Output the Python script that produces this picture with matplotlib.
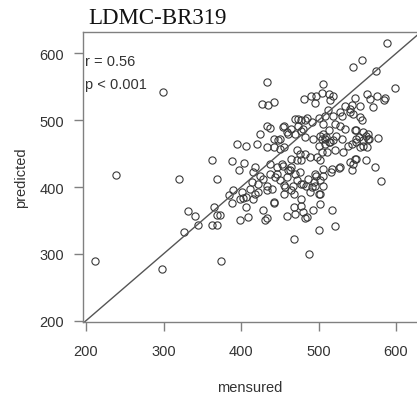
import matplotlib
matplotlib.use("Agg")
from matplotlib import pyplot as plt

title = "LDMC-BR319"
x_label = "mensured"
y_label = "predicted"
r_text = "r = 0.56"
p_text = "p < 0.001"
ticks = [200, 300, 400, 500, 600]

# values
mensured = [
    212, 239, 298, 299, 320, 326, 331, 340, 344, 363, 369, 363, 388, 369,
    385, 388, 365, 369, 373, 374,
    588, 556, 545, 574, 599, 586, 562, 567, 570, 575, 433, 427, 435, 442,
    481, 490, 497, 496, 506, 505, 513, 519, 547, 543, 534, 554, 528, 541,
    519, 515, 512, 530, 545, 554, 541, 584, 508, 556,
    474, 482, 491, 500, 506, 433, 437, 455, 465, 459, 470, 478, 483, 493,
    502, 500, 424, 442, 448, 421, 433, 442, 395, 406, 450, 455, 472, 476,
    482, 489, 498, 504, 465, 472, 478, 502, 418, 437, 446, 453, 404, 397,
    416, 425, 429, 437, 444, 450, 459, 463, 470, 476, 472, 478, 487, 495,
    502, 491, 506, 414, 422, 412, 433, 440, 457, 455,
    513, 521, 528, 534, 547, 558, 564, 549, 564, 577, 558, 530, 538, 519,
    508, 521, 532, 547, 545, 543, 561, 573, 580, 528, 517, 506, 541, 548,
    561, 549, 523, 515, 511, 527, 516, 497, 494, 484,
    390, 401, 399, 407, 407, 418, 422, 433, 442, 429, 431, 434, 399, 409,
    459, 468, 470, 478, 478, 480, 485, 493, 502, 502, 489, 465, 468, 468,
    488, 501, 517, 521, 416, 402, 442, 455, 467, 483,
    506, 510, 504, 513, 509, 474, 480, 478, 470, 485, 454, 461, 450, 454,
    461, 465, 446, 552, 558, 565, 548, 543, 554, 562, 480, 495, 506, 500,
]
predicted = [
    290, 418, 277, 542, 412, 332, 364, 356, 343, 343, 343, 441, 439, 412,
    388, 376, 370, 358, 358, 289,
    615, 590, 580, 574, 549, 533, 539, 532, 520, 536, 558, 525, 523, 527,
    532, 536, 537, 526, 555, 541, 540, 537, 533, 523, 521, 521, 512, 512,
    507, 531, 516, 507, 510, 505, 517, 530, 507, 501,
    502, 500, 497, 504, 494, 491, 489, 492, 487, 482, 479, 484, 475, 472,
    477, 462, 480, 472, 470, 465, 460, 460, 465, 462, 457, 460, 455, 450,
    450, 445, 445, 452, 442, 440, 440, 440, 430, 435, 430, 435, 436, 425,
    422, 417, 412, 420, 415, 410, 415, 425, 420, 422, 410, 405, 412, 420,
    410, 400, 402, 407, 405, 397, 402, 397, 400, 390,
    485, 495, 492, 487, 485, 482, 480, 472, 472, 474, 462, 472, 462, 470,
    472, 455, 452, 442, 435, 425, 440, 430, 409, 430, 427, 427, 437, 442,
    477, 467, 477, 467, 452, 428, 422, 417, 407, 402,
    395, 392, 382, 385, 370, 390, 392, 395, 377, 365, 350, 353, 350, 355,
    357, 370, 360, 382, 372, 362, 355, 365, 375, 390, 392, 395, 390, 322,
    300, 335, 365, 342, 382, 384, 376, 403, 401, 353,
    480, 475, 472, 467, 465, 492, 487, 500, 502, 504, 490, 480, 472, 432,
    425, 430, 420, 475, 470, 472, 485, 465, 460, 460, 405, 402, 417, 390,
]

fig = plt.figure(figsize=(4.17, 4.02), dpi=100)
ax = fig.add_axes([83 / 417, 1 - 323 / 402, 1 - 83 / 417, (323 - 33.3) / 402])

ax.plot(mensured, predicted, ls="none", marker="o", ms=5.2, mfc="none",
        mec="#3a3a3a", mew=0.8)
ax.axline((200, 200), slope=1, color="#555555", lw=1)

ax.set_xlim(196.1, 627.1)
ax.set_ylim(198.0, 631.7)
ax.set_xticks(ticks)
ax.set_yticks(ticks)
ax.spines["right"].set_visible(False)
for s in ["left", "bottom", "top"]:
    ax.spines[s].set_color("#808080")
    ax.spines[s].set_linewidth(1)
ax.tick_params(direction="out", length=6.5, width=1, color="#808080",
               labelsize=10.5, labelcolor="#333333")
ax.tick_params(axis="x", pad=9)
ax.tick_params(axis="y", pad=7)
for lab in ax.get_xticklabels() + ax.get_yticklabels():
    lab.set_family("Liberation Sans")

fig.text(85 / 417, 1 - 61.7 / 402, r_text, va="center", ha="left",
         family="Liberation Sans", size=10.5, color="#333333")
fig.text(85 / 417, 1 - 85 / 402, p_text, va="center", ha="left",
         family="Liberation Sans", size=10.5, color="#333333")
fig.text(250 / 417, 1 - 388 / 402, x_label, va="center", ha="center",
         family="Liberation Sans", size=10.5, color="#333333")
fig.text(21 / 417, 1 - 178 / 402, y_label, va="center", ha="center",
         rotation=90, family="Liberation Sans", size=10.5, color="#333333")
fig.text(88 / 417, 1 - 24 / 402, title, va="baseline", ha="left",
         family="Liberation Serif", size=16.5, color="#111111")

plt.savefig("out.png", dpi=100)
